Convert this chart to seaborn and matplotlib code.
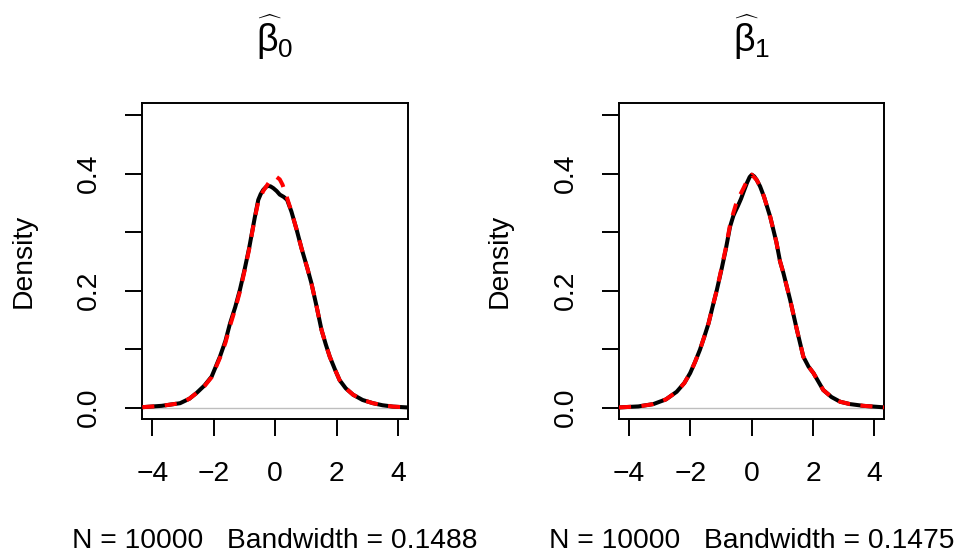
import matplotlib
matplotlib.use("Agg")
import matplotlib.pyplot as plt
import seaborn as sns
import pandas as pd

# ---- data ----
left_x = [-4.33, -3.70, -3.10, -2.80, -2.56, -2.30, -2.07, -1.80, -1.62, -1.47, -1.30, -1.15,
          -1.00, -0.85, -0.66, -0.55, -0.47, -0.39, -0.30, -0.23, -0.15, -0.06, 0.05, 0.15,
          0.28, 0.39, 0.53, 0.70, 0.86, 1.05, 1.18, 1.35, 1.51, 1.65, 1.78, 1.95, 2.10, 2.30,
          2.54, 2.85, 3.19, 3.50, 3.84, 4.31]
left_black = [0.0007, 0.003, 0.0075, 0.015, 0.025, 0.038, 0.053, 0.087, 0.114, 0.144, 0.172, 0.201,
              0.235, 0.272, 0.326, 0.355, 0.365, 0.372, 0.377, 0.379, 0.378, 0.375, 0.370, 0.364,
              0.360, 0.355, 0.335, 0.304, 0.272, 0.238, 0.213, 0.173, 0.133, 0.108, 0.087, 0.065, 0.047, 0.033,
              0.022, 0.013, 0.0075, 0.004, 0.0017, 0.0003]
left_red_x = [-4.33, -3.70, -3.10, -2.80, -2.56, -2.30, -2.07, -1.80, -1.62, -1.47, -1.30, -1.15,
              -1.00, -0.85, -0.66, -0.55, -0.39, -0.20, 0.05, 0.15, 0.24, 0.39, 0.53, 0.70, 0.86, 1.05,
              1.18, 1.35, 1.51, 1.65, 1.78, 1.95, 2.10, 2.30, 2.54, 2.85, 3.19, 3.50, 3.84, 4.31]
left_red = [0.0007, 0.003, 0.0075, 0.015, 0.025, 0.037, 0.052, 0.085, 0.111, 0.140, 0.169, 0.198,
            0.233, 0.270, 0.325, 0.352, 0.370, 0.385, 0.394, 0.390, 0.381, 0.358, 0.335, 0.304, 0.272, 0.238,
            0.213, 0.173, 0.133, 0.108, 0.087, 0.065, 0.047, 0.033, 0.022, 0.013, 0.0075, 0.004, 0.0017, 0.0003]

right_x = [-4.33, -3.70, -3.21, -2.80, -2.45, -2.20, -2.01, -1.85, -1.69, -1.55, -1.41, -1.28, -1.14,
           -0.98, -0.85, -0.71, -0.60, -0.54, -0.45, -0.35, -0.28, -0.15, -0.07, 0.00, 0.08, 0.16, 0.27,
           0.40, 0.60, 0.80, 0.92, 1.03, 1.25, 1.47, 1.68, 1.85, 2.01, 2.33, 2.60, 2.88, 3.20, 3.64, 4.32]
right_black = [0.0003, 0.002, 0.006, 0.014, 0.027, 0.042, 0.059, 0.078, 0.099, 0.121, 0.144, 0.172, 0.201,
               0.238, 0.270, 0.309, 0.328, 0.335, 0.345, 0.357, 0.367, 0.385, 0.394, 0.398, 0.395, 0.389, 0.378,
               0.360, 0.326, 0.283, 0.250, 0.230, 0.184, 0.133, 0.087, 0.070, 0.059, 0.030, 0.018, 0.010, 0.006,
               0.003, 0.0004]
right_red_x = [-4.33, -3.70, -3.21, -2.80, -2.45, -2.20, -2.01, -1.85, -1.69, -1.55, -1.41, -1.28, -1.14,
               -0.98, -0.85, -0.71, -0.60, -0.49, -0.27, -0.15, 0.00, 0.16, 0.27, 0.40, 0.60, 0.80, 0.92,
               1.03, 1.25, 1.47, 1.68, 1.85, 2.01, 2.33, 2.60, 2.88, 3.20, 3.64, 4.32]
right_red = [0.0003, 0.002, 0.006, 0.014, 0.027, 0.042, 0.059, 0.078, 0.099, 0.121, 0.144, 0.172, 0.201,
             0.240, 0.272, 0.312, 0.333, 0.352, 0.375, 0.388, 0.398, 0.389, 0.378, 0.360, 0.326, 0.283, 0.250,
             0.230, 0.184, 0.133, 0.087, 0.070, 0.059, 0.030, 0.018, 0.010, 0.006, 0.003, 0.0004]

titles = [r"$\widehat{\beta}_0$", r"$\widehat{\beta}_1$"]
xlabels = ["N = 10000   Bandwidth = 0.1488", "N = 10000   Bandwidth = 0.1475"]
x_ticks = [-4, -2, 0, 2, 4]
y_ticks = [0.0, 0.1, 0.2, 0.3, 0.4, 0.5]
y_ticklabels = ["0.0", "", "0.2", "", "0.4", ""]

# ---- style ----
sns.set_style("white")
plt.rcParams["font.family"] = ["Liberation Sans", "DejaVu Sans"]
plt.rcParams["mathtext.fontset"] = "custom"
plt.rcParams["mathtext.rm"] = "Liberation Sans"
plt.rcParams["mathtext.it"] = "Liberation Sans"

FS = 20.3
fig = plt.figure(figsize=(9.56, 5.56), dpi=100)
positions = [[142.3 / 956, 1 - 419.3 / 556, 265.4 / 956, 316 / 556],
             [619.0 / 956, 1 - 419.3 / 556, 265.3 / 956, 316 / 556]]
panels = [(left_x, left_black, left_red_x, left_red),
          (right_x, right_black, right_red_x, right_red)]

for i, (pos, (bx, by, rx, ry)) in enumerate(zip(positions, panels)):
    ax = fig.add_axes(pos)
    ax.axhline(0, color="#bebebe", lw=1.0, zorder=1)
    dfb = pd.DataFrame({"x": bx, "y": by})
    dfr = pd.DataFrame({"x": rx, "y": ry})
    sns.lineplot(data=dfb, x="x", y="y", ax=ax, color="black", lw=2.9,
                 estimator=None, sort=False, zorder=2)
    sns.lineplot(data=dfr, x="x", y="y", ax=ax, color="#ff0000", lw=2.9,
                 estimator=None, sort=False, zorder=3, linestyle=(0, (3, 2.6)))
    ax.set_xlim(-4.33, 4.32)
    ax.set_ylim(-0.02, 0.52)
    ax.set_xticks(x_ticks)
    ax.set_xticklabels([("\u2212" + str(-t)) if t < 0 else str(t) for t in x_ticks])
    ax.set_yticks(y_ticks)
    ax.set_yticklabels(y_ticklabels, rotation=90, va="center")
    ax.tick_params(axis="both", direction="out", length=12.2, width=1.4,
                   color="black", labelsize=FS, labelcolor="black",
                   bottom=True, left=True, top=False, right=False)
    ax.tick_params(axis="x", pad=18)
    ax.tick_params(axis="y", pad=17)
    for s in ax.spines.values():
        s.set_visible(True)
        s.set_color("black")
        s.set_linewidth(1.4)
    ax.set_xlabel(xlabels[i], fontsize=FS, labelpad=29.5, color="black")
    ax.set_ylabel("Density", fontsize=FS, labelpad=28.5, color="black")
    ax.set_title(titles[i], fontsize=27, pad=37, color="black")

fig.savefig("out.png", dpi=100, facecolor="white")
